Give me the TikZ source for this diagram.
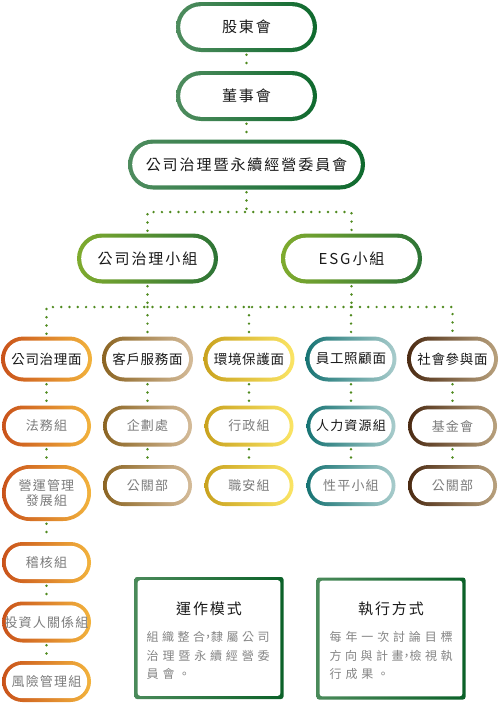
\documentclass[tikz,border=0pt]{standalone}
\usepackage{fontspec}
\newfontfamily\cjkT[LetterSpace=13]{Noto Sans CJK TC}
\newfontfamily\cjkF[LetterSpace=5]{Noto Sans CJK TC}
\newfontfamily\cjkS[LetterSpace=9]{Noto Sans CJK TC}
\newfontfamily\cjkB[LetterSpace=32]{Noto Sans CJK TC}
\newfontfamily\cjkN{Noto Sans CJK TC}
\definecolor{dotg}{HTML}{4F8A1E}
\definecolor{txt}{HTML}{1A1A1A}
\definecolor{gtxt}{HTML}{7C7C7C}
\definecolor{btxt}{HTML}{858585}
\definecolor{topL}{HTML}{4E8C5E}\definecolor{topR}{HTML}{0F6A2E}
\definecolor{grpL}{HTML}{7FAB2E}\definecolor{grpR}{HTML}{2D7436}
\definecolor{caL}{HTML}{C9521A}\definecolor{caR}{HTML}{F2B33D}
\definecolor{cbL}{HTML}{8B6422}\definecolor{cbR}{HTML}{D5BC9A}
\definecolor{ccL}{HTML}{C9A21E}\definecolor{ccR}{HTML}{FBE565}
\definecolor{cdL}{HTML}{177474}\definecolor{cdR}{HTML}{A9CCCC}
\definecolor{ceL}{HTML}{4B2A12}\definecolor{ceR}{HTML}{B9A27E}
\definecolor{frL}{HTML}{4A8A5A}\definecolor{frR}{HTML}{0B6128}
\tikzset{
  ring/.style n args={5}{rectangle, draw=none, inner sep=0pt, align=center,
    minimum width=#3, minimum height=#4, rounded corners=#4/2,
    left color=#1, right color=#2,
    path picture={\fill[white, rounded corners=#4/2-#5]
      ([shift={(#5,#5)}]path picture bounding box.south west) rectangle
      ([shift={(-#5,-#5)}]path picture bounding box.north east);}},
  toppill/.style={ring={topL}{topR}{141pt}{50pt}{4.2pt}, text=txt, font=\cjkT\fontsize{15pt}{18pt}\selectfont},
  compill/.style={ring={topL}{topR}{237pt}{50pt}{4.2pt}, text=txt, font=\cjkT\fontsize{15pt}{18pt}\selectfont},
  grppill/.style={ring={grpL}{grpR}{141pt}{50pt}{4.2pt}, text=txt, font=\cjkT\fontsize{15pt}{18pt}\selectfont},
  facepill/.style={ring={#1L}{#1R}{91pt}{45pt}{4pt}, text=txt, font=\cjkF\fontsize{13.5pt}{16pt}\selectfont},
  subpill/.style={ring={#1L}{#1R}{89pt}{41pt}{3.8pt}, text=gtxt, font=\cjkS\fontsize{13pt}{15pt}\selectfont},
  tallpill/.style={ring={#1L}{#1R}{89pt}{56pt}{3.8pt}, text=gtxt, font=\cjkS\fontsize{13pt}{15pt}\selectfont},
  frame/.style={rectangle, draw=none, inner sep=0pt, minimum width=149pt, minimum height=122pt,
    rounded corners=2.5pt, left color=frL, right color=frR,
    path picture={\fill[white]
      ([shift={(3.2pt,3.2pt)}]path picture bounding box.south west) rectangle
      ([shift={(-3.2pt,-3.2pt)}]path picture bounding box.north east);}},
  ttl/.style={inner sep=0pt, text=txt, font=\cjkT\fontsize{15pt}{18pt}\selectfont},
  body/.style={inner sep=0pt, anchor=west, text=btxt, font=\fontsize{12pt}{14pt}\selectfont},
  dots/.style={draw=dotg, line width=2.7pt, line cap=round, dash pattern=on 0pt off 8.3pt,
    shorten <=2.5pt, shorten >=2.5pt}
}
\begin{document}
\begin{tikzpicture}[x=1pt,y=-1pt]
\useasboundingbox[fill=white] (0,0) rectangle (502,704);
% top chain
\node[toppill] (gm) at (246.5,27) {股東會};
\node[toppill] (bod) at (246.5,96) {董事會};
\node[compill] (com) at (246.5,164.5) {公司治理暨永續經營委員會};
\node[grppill] (cg) at (147.5,258.5) {公司治理小組};
\node[grppill] (esg) at (351.5,258.5) {ESG小組};
% faces
\node[facepill=ca] (f1) at (46.5,359) {公司治理面};
\node[facepill=cb] (f2) at (147.5,359) {客戶服務面};
\node[facepill=cc] (f3) at (249,359) {環境保護面};
\node[facepill=cd] (f4) at (351,359) {員工照顧面};
\node[facepill=ce] (f5) at (452.5,359) {社會參與面};
% row 2
\node[subpill=ca] (a1) at (46.5,426) {法務組};
\node[subpill=cb] (a2) at (147.5,426) {企劃處};
\node[subpill=cc] (a3) at (249,426) {行政組};
\node[subpill=cd, text=txt] (a4) at (351,426) {人力資源組};
\node[subpill=ce] (a5) at (452.5,426) {基金會};
% row 3
\node[tallpill=ca] (b1) at (46.5,493) {營運管理\\發展組};
\node[subpill=cb] (b2) at (147.5,485.5) {公關部};
\node[subpill=cc] (b3) at (249,485.5) {職安組};
\node[subpill=cd] (b4) at (351,485.5) {性平小組};
\node[subpill=ce] (b5) at (452.5,485.5) {公關部};
% column 1 continued
\node[subpill=ca] (c1) at (46.5,562.5) {稽核組};
\node[subpill=ca] (d1) at (46.5,622) {投資人關係組};
\node[subpill=ca] (e1) at (46.5,681.5) {風險管理組};
% bottom frames
\node[frame] (op) at (209,638) {};
\node[frame] (ex) at (391,638.5) {};
\node[ttl] (opt) at (209,609) {運作模式};
\node[ttl] (ext) at (391,609) {執行方式};
\node[body] (op1) at (146.5,637) {\cjkN\makebox[123pt][s]{組\hfill 織\hfill 整\hfill 合\makebox[6pt]{，}隸\hfill 屬\hfill 公\hfill 司}};
\node[body] (op2) at (146.5,655.5) {\cjkN\makebox[123pt][s]{治\hfill 理\hfill 暨\hfill 永\hfill 續\hfill 經\hfill 營\hfill 委}};
\node[body] (op3) at (146.5,674) {\cjkB 員會。};
\node[body] (ex1) at (329.5,637) {\cjkN\makebox[123pt][s]{每\hfill 年\hfill 一\hfill 次\hfill 討\hfill 論\hfill 目\hfill 標}};
\node[body] (ex2) at (329.5,655.5) {\cjkN\makebox[123pt][s]{方\hfill 向\hfill 與\hfill 計\hfill 畫\makebox[6pt]{，}檢\hfill 視\hfill 執}};
\node[body] (ex3) at (329.5,674) {\cjkB 行成果。};
% connectors
\coordinate (j1) at (246.5,212);
\coordinate (j2) at (249,307);
\draw[dots] (gm.south) -- (bod.north);
\draw[dots] (bod.south) -- (com.north);
\draw[dots, shorten >=0pt] (com.south) -- (j1);
\draw[dots] (cg.north) -- (cg.north |- j1) -- (esg.north |- j1) -- (esg.north);
\draw[dots, shorten >=0pt] (cg.south) -- (cg.south |- j2);
\draw[dots, shorten >=0pt] (esg.south) -- (esg.south |- j2);
\draw[dots] (f1.north) -- (f1.north |- j2) -- (f5.north |- j2) -- (f5.north);
\draw[dots, shorten <=0pt] (f2.north |- j2) -- (f2.north);
\draw[dots, shorten <=0pt] (f3.north |- j2) -- (f3.north);
\draw[dots, shorten <=0pt] (f4.north |- j2) -- (f4.north);
\foreach \i in {1,...,5}{\draw[dots] (f\i.south) -- (a\i.north);}
\foreach \i in {1,...,5}{\draw[dots] (a\i.south) -- (b\i.north);}
\draw[dots] (b1.south) -- (c1.north);
\draw[dots] (c1.south) -- (d1.north);
\draw[dots] (d1.south) -- (e1.north);
\end{tikzpicture}
\end{document}
